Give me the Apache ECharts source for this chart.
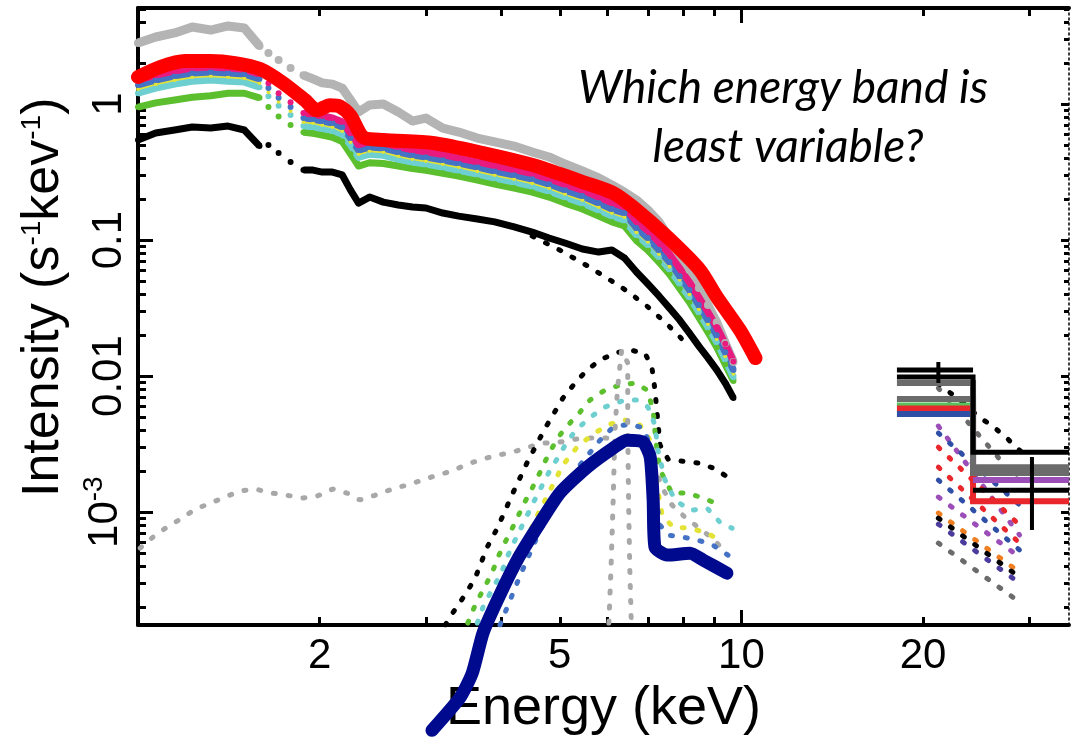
<!DOCTYPE html>
<html>
<head>
<meta charset="utf-8">
<script src="https://cdn.jsdelivr.net/npm/echarts@6.0.0/dist/echarts.min.js"></script>
<style>
html, body { margin: 0; padding: 0; background: #fff; }
#main { width: 1071px; height: 743px; }
</style>
</head>
<body>
<div id="main"></div>
<script>
// axis ranges (keV, s^-1 keV^-1)
const xMin = 1, xMax = 34.9, yMin = 1.48e-4, yMax = 5.08;
const xLabels = [2, 5, 10, 20];
const xMajor = [10];
const xMinor = [2, 3, 4, 5, 6, 7, 8, 9, 20, 30];
const yLabels = [0.001, 0.01, 0.1, 1];
const yMinor = [2e-4, 3e-4, 4e-4, 5e-4, 6e-4, 7e-4, 8e-4, 9e-4,
  0.002, 0.003, 0.004, 0.005, 0.006, 0.007, 0.008, 0.009,
  0.02, 0.03, 0.04, 0.05, 0.06, 0.07, 0.08, 0.09,
  0.2, 0.3, 0.4, 0.5, 0.6, 0.7, 0.8, 0.9, 2, 3, 4, 5];

// binned spectra, shared energy grid (null = no bin, the 1.6-1.85 keV gap only has sparse bins)
const dataE = [1.0, 1.07, 1.15, 1.23, 1.32, 1.41, 1.5, 1.59,
  1.615, 1.645, 1.68, 1.71, 1.75, 1.79, 1.835,
  1.88, 1.95, 2.02, 2.1, 2.18, 2.25, 2.32, 2.42, 2.55, 2.7, 2.85, 3.0, 3.2, 3.4, 3.65, 3.9,
  4.2, 4.5, 4.8, 5.1, 5.45, 5.8, 6.1, 6.4, 6.7, 7.0, 7.3, 7.6, 7.9, 8.2, 8.5, 8.8, 9.1, 9.4, 9.7];
const grayI = [2.81, 3.11, 3.33, 3.68, 3.50, 3.75, 3.62, 2.67,
  null, 2.37, null, 2.11, null, 1.84, null,
  1.63, 1.53, 1.43, 1.40, 1.31, 1.07, 0.873, 0.983, 1.0, 0.873, 0.750, 0.789, 0.666, 0.622, 0.562, 0.526,
  0.491, 0.444, 0.408, 0.362, 0.322, 0.286, 0.254, 0.225, 0.197, 0.166, 0.136, 0.1035, 0.0776, 0.0602, 0.0444, 0.0333, 0.0249, 0.0175, 0.0127];
const pinkI = [1.50, 1.63, 1.75, 1.84, 1.87, 1.84, 1.80, 1.66,
  null, 1.42, null, 1.20, null, 1.03, null,
  0.86, 0.84, 0.82, 0.79, 0.74, 0.61, 0.50, 0.53, 0.52, 0.485, 0.46, 0.445, 0.425, 0.40, 0.376, 0.352,
  0.33, 0.308, 0.283, 0.256, 0.233, 0.207, 0.188, 0.175, 0.137, 0.117, 0.096, 0.079, 0.062, 0.049, 0.038, 0.0296, 0.023, 0.0173, 0.0128];
const blueI = [1.38, 1.50, 1.61, 1.69, 1.72, 1.69, 1.66, 1.53,
  null, 1.31, null, 1.11, null, 0.950, null,
  0.789, 0.776, 0.750, 0.725, 0.678, 0.562, 0.459, 0.483, 0.475, 0.444, 0.422, 0.408, 0.388, 0.368, 0.344, 0.322,
  0.301, 0.281, 0.258, 0.233, 0.211, 0.187, 0.169, 0.158, 0.1225, 0.1035, 0.0844, 0.0689, 0.0543, 0.0429, 0.0333, 0.0258, 0.0200, 0.0150, 0.0111];
const yellowI = [1.29, 1.40, 1.50, 1.58, 1.61, 1.58, 1.55, 1.43,
  null, 1.22, null, 1.04, null, 0.89, null,
  0.737, 0.725, 0.70, 0.677, 0.633, 0.525, 0.429, 0.451, 0.444, 0.415, 0.394, 0.381, 0.362, 0.344, 0.321, 0.301,
  0.281, 0.262, 0.241, 0.218, 0.197, 0.175, 0.158, 0.148, 0.114, 0.097, 0.079, 0.064, 0.051, 0.040, 0.031, 0.0241, 0.0187, 0.014, 0.0104];
const cyanI = [1.20, 1.31, 1.40, 1.47, 1.50, 1.47, 1.45, 1.33,
  null, 1.14, null, 0.97, null, 0.83, null,
  0.69, 0.68, 0.66, 0.64, 0.60, 0.50, 0.405, 0.428, 0.42, 0.393, 0.374, 0.362, 0.344, 0.326, 0.305, 0.286,
  0.267, 0.249, 0.229, 0.207, 0.187, 0.166, 0.150, 0.140, 0.109, 0.092, 0.075, 0.061, 0.048, 0.038, 0.0296, 0.0229, 0.0178, 0.0133, 0.0098];
const greenI = [0.95, 1.02, 1.07, 1.12, 1.15, 1.20, 1.20, 1.11,
  null, 0.95, null, 0.81, null, 0.70, null,
  0.62, 0.61, 0.59, 0.57, 0.53, 0.43, 0.35, 0.37, 0.365, 0.35, 0.335, 0.326, 0.31, 0.295, 0.276, 0.258,
  0.241, 0.225, 0.207, 0.187, 0.169, 0.15, 0.136, 0.127, 0.099, 0.084, 0.069, 0.056, 0.044, 0.035, 0.027, 0.021, 0.0163, 0.0122, 0.0092];
const blackI = [0.544, 0.612, 0.644, 0.678, 0.666, 0.689, 0.644, 0.491,
  null, 0.499, null, 0.436, null, 0.375, null,
  0.327, 0.327, 0.316, 0.316, 0.301, 0.233, 0.187, 0.207, 0.190, 0.181, 0.175, 0.172, 0.158, 0.150, 0.143, 0.136,
  0.125, 0.1145, 0.1035, 0.0951, 0.0859, 0.0816, 0.0844, 0.0738, 0.0582, 0.0475, 0.0388, 0.0316, 0.0258, 0.0207, 0.0166, 0.0136, 0.0111, 0.00889, 0.00689];

// best-fit model (thick red)
const redE = [1.0, 1.088, 1.196, 1.316, 1.448, 1.593, 1.739, 1.89, 1.98, 2.08, 2.16, 2.25, 2.36, 2.55, 3.08, 3.73, 4.51, 5.0, 5.46, 6.13, 6.61, 7.54, 8.53, 9.10, 9.94, 10.55];
const redI = [1.58, 1.87, 2.07, 2.07, 2.00, 1.81, 1.43, 1.07, 0.90, 0.98, 0.96, 0.82, 0.572, 0.544, 0.517, 0.436, 0.356, 0.306, 0.267, 0.222, 0.175, 0.105, 0.0603, 0.0382, 0.0218, 0.01356];

// reflection component (thick navy)
const navyE = [3.07, 3.42, 3.58, 3.73, 3.94, 4.25, 4.59, 5.00, 5.55, 6.13, 6.46, 6.87, 7.06, 7.14, 7.19, 7.53, 8.22, 8.64, 9.46];
const navyI = [2.49e-5, 4.36e-5, 6.55e-5, 1.29e-4, 2.25e-4, 4.44e-4, 7.76e-4, 1.38e-3, 2.14e-3, 2.96e-3, 3.38e-3, 3.27e-3, 2.54e-3, 1.23e-3, 5.53e-4, 4.83e-4, 4.99e-4, 4.44e-4, 3.56e-4];

// dotted model components
const softE = [1.008, 1.059, 1.117, 1.183, 1.243, 1.316, 1.393, 1.476, 1.563, 1.668, 1.766, 1.870, 1.98, 2.104, 2.22, 2.33, 2.47, 2.64, 2.79, 2.96, 3.13, 3.31, 3.51, 3.72, 3.94, 4.18, 4.43, 4.69, 5.0, 5.30, 5.61, 5.98, 6.41, 6.92, 7.2, 7.43, 7.67, 8.06, 8.47, 8.94, 9.46];
const softI = [5.43e-4, 6.55e-4, 7.76e-4, 9.03e-4, 1.05e-3, 1.16e-3, 1.29e-3, 1.43e-3, 1.48e-3, 1.38e-3, 1.33e-3, 1.27e-3, 1.31e-3, 1.48e-3, 1.38e-3, 1.23e-3, 1.33e-3, 1.48e-3, 1.58e-3, 1.72e-3, 1.87e-3, 2.00e-3, 2.25e-3, 2.45e-3, 2.62e-3, 2.76e-3, 3.00e-3, 3.21e-3, 3.27e-3, 3.44e-3, 3.50e-3, 3.50e-3, 3.38e-3, 3.00e-3, 2.04e-3, 1.45e-3, 1.13e-3, 9.19e-4, 7.76e-4, 6.44e-4, 5.0e-4];
const feLineE = [6.03, 6.08, 6.13, 6.17, 6.23, 6.33, 6.48, 6.48, 6.50, 6.53, 6.57];
const feLineI = [1.53e-4, 3.94e-4, 1.23e-3, 3.81e-3, 7.89e-3, 0.0155, 0.0125, 4.22e-3, 1.23e-3, 3.94e-4, 1.48e-4];
const bumpBlackE = [3.23, 3.33, 3.48, 3.62, 3.79, 3.94, 4.06, 4.18, 4.41, 4.73, 5.06, 5.30, 5.55, 5.83, 6.17, 6.54, 6.92, 7.11, 7.19, 7.24, 7.33, 7.56, 7.97, 8.53, 8.97, 9.50];
const bumpBlackI = [1.48e-4, 1.84e-4, 2.45e-4, 3.27e-4, 5.53e-4, 7.62e-4, 1.03e-3, 1.38e-3, 2.29e-3, 4.15e-3, 6.89e-3, 8.89e-3, 0.0111, 0.0131, 0.0148, 0.0155, 0.0148, 0.0114, 7.89e-3, 5.62e-3, 3.11e-3, 2.45e-3, 2.37e-3, 2.29e-3, 2.11e-3, 1.81e-3];
const bumpGreenE = [3.52, 3.62, 3.73, 3.86, 3.95, 4.09, 4.22, 4.35, 4.50, 4.64, 4.78, 4.97, 5.16, 5.40, 5.61, 5.94, 6.29, 6.66, 6.98, 7.14, 7.21, 7.33, 7.67, 8.16, 8.71, 9.21];
const bumpGreenI = [1.53e-4, 2.07e-4, 2.67e-4, 3.56e-4, 4.67e-4, 6.44e-4, 8.44e-4, 1.13e-3, 1.50e-3, 1.97e-3, 2.62e-3, 3.56e-3, 4.36e-3, 5.43e-3, 6.67e-3, 7.89e-3, 8.59e-3, 8.89e-3, 7.89e-3, 5.62e-3, 3.38e-3, 2.04e-3, 1.38e-3, 1.38e-3, 1.25e-3, 1.13e-3];
const bumpCyanE = [3.65, 3.74, 3.86, 4.00, 4.09, 4.23, 4.36, 4.50, 4.65, 4.80, 4.97, 5.16, 5.36, 5.68, 5.94, 6.41, 6.71, 7.00, 7.19, 7.27, 7.47, 7.76, 8.22, 8.77, 9.21, 9.65];
const bumpCyanI = [1.53e-4, 2.07e-4, 2.68e-4, 3.56e-4, 4.67e-4, 6.44e-4, 8.44e-4, 1.13e-3, 1.50e-3, 1.97e-3, 2.54e-3, 3.38e-3, 4.15e-3, 5.16e-3, 5.92e-3, 6.67e-3, 6.67e-3, 5.92e-3, 4.36e-3, 2.86e-3, 1.72e-3, 1.23e-3, 1.03e-3, 1.07e-3, 8.44e-4, 7.62e-4];
const bumpYellowE = [3.83, 4.06, 4.30, 4.55, 4.82, 5.06, 5.34, 5.65, 5.99, 6.41, 6.79, 7.06, 7.22, 7.39, 7.70, 8.22, 8.77, 9.21];
const bumpYellowI = [1.48e-4, 2.68e-4, 4.83e-4, 8.77e-4, 1.45e-3, 2.22e-3, 3.0e-3, 3.68e-3, 4.36e-3, 4.76e-3, 4.36e-3, 3.38e-3, 1.72e-3, 9.5e-4, 7.76e-4, 7.62e-4, 7.01e-4, 6.22e-4];
const bumpBlueE = [3.98, 4.30, 4.64, 5.0, 5.40, 5.83, 6.13, 6.54, 6.87, 7.06, 7.19, 7.33, 7.56, 8.00, 8.47, 8.97, 9.50];
const bumpBlueI = [1.48e-4, 3.44e-4, 7.40e-4, 1.33e-3, 2.22e-3, 3.38e-3, 4.22e-3, 4.44e-3, 4.15e-3, 3.11e-3, 1.45e-3, 8.02e-4, 6.78e-4, 6.55e-4, 6.22e-4, 5.72e-4, 4.83e-4];
const contBlackE = [4.5, 5.0, 5.6, 6.1, 6.5, 7.0, 7.5, 8.0];
const contBlackI = [0.107, 0.0844, 0.0633, 0.0499, 0.0415, 0.0322, 0.0245, 0.0184];

// hard X-ray bins (two bins, step lines)
const binEdges = [18.1, 24.2, 34.9];
const stepNames = ['blue', 'red', 'green', 'purple', 'grayB', 'grayA', 'blackLow', 'blackMid', 'blackTop'];
const stepBin1 = [0.00526, 0.00582, 0.00623, null, 0.00678, 0.00889, null, 0.00983, 0.0111];
const stepBin2 = [null, 0.00120, null, 0.00172, 0.00194, 0.00214, 0.00145, 0.00276, null];
const errE = [21.2, 30.3];
const errLo = [0.0089, 7.38e-4];
const errHi = [0.0127, 0.00254];
const hxModelE = [21.2, 22.2, 23.6, 24.6, 26.0, 27.3, 28.6, 30.1];
const hxModelI = [8.89e-3, 7.5e-3, 6.12e-3, 5.12e-3, 4.32e-3, 3.63e-3, 2.97e-3, 2.45e-3];
const fanE = [21.2, 28.9];
const fanStart = [8.16e-3, 4.29e-3, 3.81e-3, 3.0e-3, 2.14e-3, 1.72e-3, 1.29e-3, 9.84e-4, 9.03e-4, 8.16e-4, 5.92e-4];
const fanEnd = [1.66e-3, 6.78e-4, 1.13e-3, 8.02e-4, 5.92e-4, 5.26e-4, 4.67e-4, 3.62e-4, 3.33e-4, 3.01e-4, 2.18e-4];

const C = {
  gray: '#b4b4b4', pink: '#e8197f', blue: '#4472c4', yellow: '#e3e336', cyan: '#6dcfd0',
  green: '#5cbf2e', black: '#000000', red: '#ff0000', navy: '#000a8f',
  dgray: '#6b6b6b', purple: '#9b4db8', hblue: '#2f4ea6', hred: '#e8262b', orange: '#f07f22', dpurple: '#4a3b9c'
};
const stepColors = { blue: C.hblue, red: C.hred, green: '#5cc15c', purple: C.purple, grayB: C.dgray, grayA: C.dgray, blackLow: '#000', blackMid: '#000', blackTop: '#000' };
const fanColors = [C.dgray, C.purple, C.hblue, C.hred, C.hred, C.hblue, C.purple, C.orange, '#000', C.dpurple, C.dgray];

const FONT = 'Liberation Sans, Arial, sans-serif';
const ITAL = 'italic 46px Lato, "Open Sans", sans-serif';
const DOT = [2, 13];

function zip(E, I) { return E.map((e, i) => [e, I[i]]); }

function line(E, I, color, width, extra) {
  return Object.assign({
    type: 'line', data: zip(E, I), symbol: 'none', silent: true, animation: false,
    lineStyle: { color: color, width: width, cap: 'round', join: 'round' }
  }, extra || {});
}
function dotted(E, I, color, width) {
  return line(E, I, color, width || 5, {
    lineStyle: { color: color, width: width || 5, type: DOT, cap: 'round' }, z: 2
  });
}
function band(I, color, width, size) {
  return {
    type: 'line', data: zip(dataE, I), silent: true, animation: false,
    showSymbol: true, symbol: 'circle', symbolSize: size,
    itemStyle: { color: color }, z: 3,
    lineStyle: { color: color, width: width, join: 'round' }
  };
}

const series = [];
// dotted components
series.push(dotted(softE, softI, '#a8a8a8', 5));
series.push(dotted(bumpBlackE, bumpBlackI, C.black, 5));
series.push(dotted(bumpGreenE, bumpGreenI, C.green, 5));
series.push(dotted(bumpCyanE, bumpCyanI, C.cyan, 5));
series.push(dotted(bumpYellowE, bumpYellowI, C.yellow, 5));
series.push(dotted(bumpBlueE, bumpBlueI, C.blue, 5));
series.push(dotted(feLineE, feLineI, '#a8a8a8', 5));
series.push(dotted(contBlackE, contBlackI, C.black, 5));
// hard X-ray fan of model components
fanStart.forEach((s, i) => series.push(dotted(fanE, [s, fanEnd[i]], fanColors[i], 5)));
series.push(dotted(hxModelE, hxModelI, C.black, 5));
// step lines
stepNames.forEach((n, i) => {
  const a = stepBin1[i], b = stepBin2[i], pts = [];
  if (a != null) pts.push([binEdges[0], a], [binEdges[1], a]);
  if (b != null) pts.push([binEdges[1], b], [binEdges[2], b]);
  const w = n.indexOf('black') === 0 ? 5 : (n === 'green' ? 3 : 6);
  series.push({
    type: 'line', data: pts, symbol: 'none', silent: true, animation: false, z: 4,
    lineStyle: { color: stepColors[n], width: w, cap: 'butt', join: 'miter' }
  });
});
series.push({
  type: 'line', symbol: 'none', silent: true, animation: false, z: 5,
  data: [[errE[0], errLo[0]], [errE[0], errHi[0]], [25, null], [errE[1], errLo[1]], [errE[1], errHi[1]]],
  lineStyle: { color: '#000', width: 4 }
});
// data bands
series.push(band(grayI, C.gray, 9, 8));
series.push(band(greenI, C.green, 7, 6));
series.push(band(cyanI, C.cyan, 7, 6));
series.push(band(yellowI, C.yellow, 2.5, 4));
series.push(band(blueI, C.blue, 7, 6));
series.push(band(pinkI, C.pink, 7, 6));
series.push(band(blackI, C.black, 7, 6));
// models on top
series.push(line(redE, redI, C.red, 14, { smooth: 0.25, z: 6 }));
series.push(line(navyE, navyI, C.navy, 13, { smooth: 0.2, z: 7, clip: false }));

function xAxisDef(pos, ticks, len, extra) {
  return Object.assign({
    type: 'log', logBase: 10, min: xMin, max: xMax, position: pos,
    axisLine: { show: false }, splitLine: { show: false }, axisLabel: { show: false }, minorTick: { show: false },
    axisTick: { show: true, inside: true, length: len, customValues: ticks, lineStyle: { color: '#000', width: 3 } }
  }, extra || {});
}
function yAxisDef(pos, ticks, len, extra) {
  return Object.assign({
    type: 'log', logBase: 10, min: yMin, max: yMax, position: pos,
    axisLine: { show: false }, splitLine: { show: false }, axisLabel: { show: false }, minorTick: { show: false },
    axisTick: { show: true, inside: true, length: len, customValues: ticks, lineStyle: { color: '#000', width: 3 } }
  }, extra || {});
}

const axisLine = { show: true, onZero: false, lineStyle: { color: '#000', width: 4 } };

const option = {
  backgroundColor: '#fff',
  animation: false,
  grid: { left: 138, right: 2, top: 8, bottom: 118, containLabel: false, outerBoundsMode: 'none' },
  xAxis: [
    xAxisDef('bottom', xMajor, 15, {
      axisLine: axisLine,
      axisLabel: { show: true, customValues: xLabels, margin: 10, color: '#000', fontSize: 42, fontFamily: FONT },
      name: 'Energy (keV)', nameLocation: 'middle', nameGap: 57,
      nameTextStyle: { color: '#000', fontSize: 54, fontFamily: FONT }
    }),
    xAxisDef('top', xMajor, 15, { axisLine: axisLine }),
    xAxisDef('bottom', xMinor, 8),
    xAxisDef('top', xMinor, 8)
  ],
  yAxis: [
    yAxisDef('left', yLabels, 15, {
      axisLine: axisLine,
      axisLabel: {
        show: true, customValues: yLabels, rotate: 90, margin: 8, color: '#000', fontSize: 42, fontFamily: FONT,
        formatter: function (v) { return Math.abs(v - 0.001) < 1e-9 ? '{b|10}{s|-3}' : String(v); },
        rich: { b: { fontSize: 42, fontFamily: FONT, color: '#000' }, s: { fontSize: 28, fontFamily: FONT, color: '#000', padding: [0, 0, 22, 0] } }
      }
    }),
    yAxisDef('right', yLabels, 8, { axisLine: { show: true, lineStyle: { color: '#000', width: 1.5, type: [2, 3] } } }),
    yAxisDef('left', yMinor, 8),
    yAxisDef('right', yMinor, 5)
  ],
  graphic: [
    {
      type: 'text', x: 44, y: 497, rotation: Math.PI / 2, silent: true,
      style: {
        text: 'Intensity (s{s|-1}kev{s|-1})',
        fill: '#000', font: '52px ' + FONT, textAlign: 'left', textVerticalAlign: 'middle',
        rich: { s: { fontSize: 28, fontFamily: FONT, fill: '#000', padding: [0, 0, 24, 0] } }
      }
    },
    {
      type: 'text', x: 783, y: 88, silent: true,
      style: { text: 'Which energy band is', fill: '#000', font: ITAL, textAlign: 'center', textVerticalAlign: 'middle' }
    },
    {
      type: 'text', x: 788, y: 147, silent: true,
      style: { text: 'least variable?', fill: '#000', font: ITAL, textAlign: 'center', textVerticalAlign: 'middle' }
    }
  ],
  series: series
};

const chart = echarts.init(document.getElementById('main'), null, { renderer: 'canvas' });
chart.setOption(option);
window.addEventListener('resize', function () { chart.resize(); });
</script>
</body>
</html>
